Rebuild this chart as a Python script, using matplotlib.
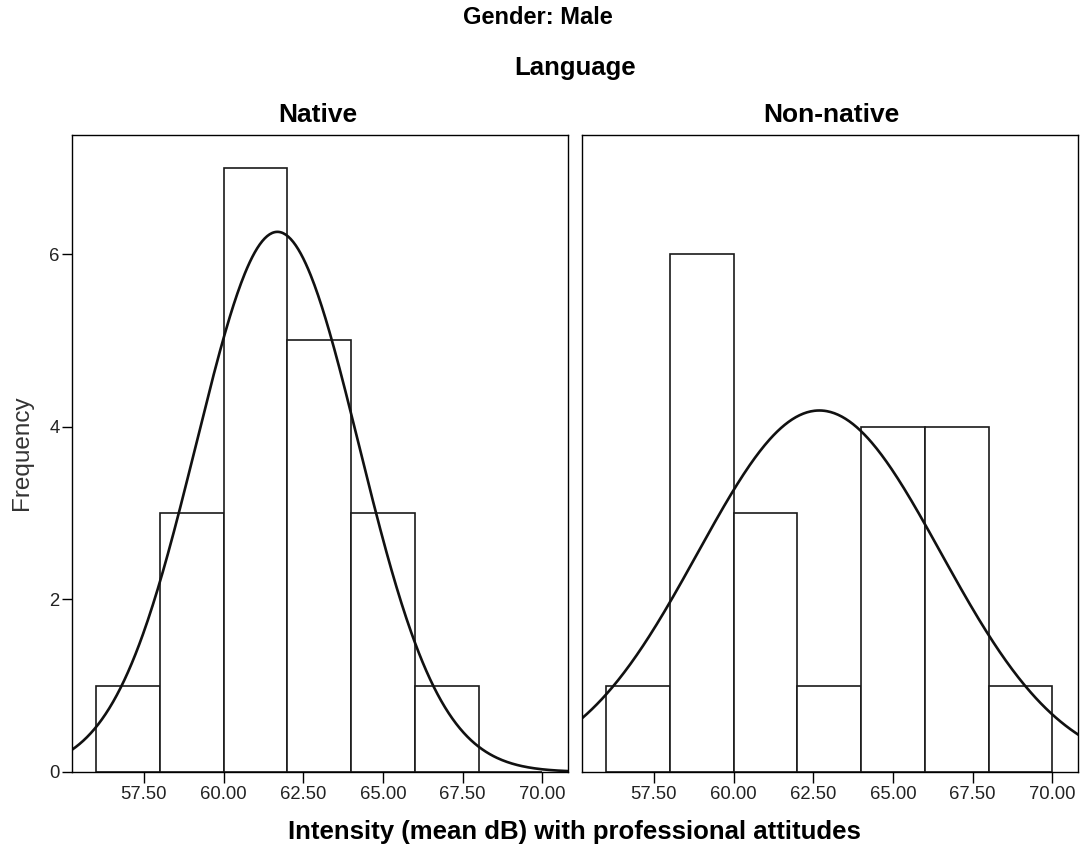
import numpy as np
import matplotlib as mpl
mpl.use('Agg')
import matplotlib.pyplot as plt

mpl.rcParams.update({
    'font.family': ['Liberation Sans', 'DejaVu Sans'],
    'axes.linewidth': 1.0,
})

# ── data ─────────────────────────────────────────────────────────────────
BIN_EDGES = [56, 58, 60, 62, 64, 66, 68, 70]
NATIVE_COUNTS = [1, 3, 7, 5, 3, 1, 0]
NONNATIVE_COUNTS = [1, 6, 3, 1, 4, 4, 1]
NATIVE_MEAN, NATIVE_SD = 61.69, 2.55
NONNATIVE_MEAN, NONNATIVE_SD = 62.69, 3.81
X_TICKS = [57.5, 60.0, 62.5, 65.0, 67.5, 70.0]
Y_TICKS = [0, 2, 4, 6]
PANELS = ['Native', 'Non-native']

W, H = 1085, 856
fig = plt.figure(figsize=(W / 100, H / 100), dpi=100)


def px_axes(x0, x1, y0, y1):
    return fig.add_axes([x0 / W, 1 - y1 / H, (x1 - x0) / W, (y1 - y0) / H])


def px_text(x, y, s, **kw):
    fig.text(x / W, 1 - y / H, s, ha='center', va='center', **kw)


ax1 = px_axes(72, 568, 135, 772)
ax2 = px_axes(582, 1078, 135, 772)

series = [(ax1, NATIVE_COUNTS, NATIVE_MEAN, NATIVE_SD),
          (ax2, NONNATIVE_COUNTS, NONNATIVE_MEAN, NONNATIVE_SD)]

xs = np.linspace(55.25, 70.8, 400)
edges = np.array(BIN_EDGES)
for i, (ax, counts, mu, sd) in enumerate(series):
    n = sum(counts)
    bw = edges[1] - edges[0]
    ax.bar(edges[:-1], counts, width=bw, align='edge', facecolor='white',
           edgecolor='#1a1a1a', linewidth=1.2)
    curve = n * bw / (sd * np.sqrt(2 * np.pi)) * np.exp(-0.5 * ((xs - mu) / sd) ** 2)
    ax.plot(xs, curve, color='#111111', linewidth=1.9)
    ax.set_xlim(55.25, 70.8)
    ax.set_ylim(0, 7.38)
    ax.set_xticks(X_TICKS)
    ax.set_xticklabels([f'{t:.2f}' for t in X_TICKS], fontsize=13.3, color='#222222')
    ax.tick_params(axis='x', length=8, width=1, pad=2)
    ax.set_yticks(Y_TICKS)
    ax.tick_params(axis='y', length=7, width=1, labelsize=13.3, pad=2,
                   labelcolor='#222222')
    if i == 1:
        ax.tick_params(axis='y', left=False, labelleft=False)

px_text(318, 115, PANELS[0], fontsize=19, fontweight='bold')
px_text(831, 115, PANELS[1], fontsize=19, fontweight='bold')
px_text(538, 18, 'Gender: Male', fontsize=17, fontweight='bold')
px_text(575, 68, 'Language', fontsize=18.5, fontweight='bold')
px_text(22, 453, 'Frequency', rotation=90, fontsize=17.5, color='#333333')
px_text(574, 832, 'Intensity (mean dB) with professional attitudes',
        fontsize=18.5, fontweight='bold')

fig.savefig('out.png', dpi=100)
